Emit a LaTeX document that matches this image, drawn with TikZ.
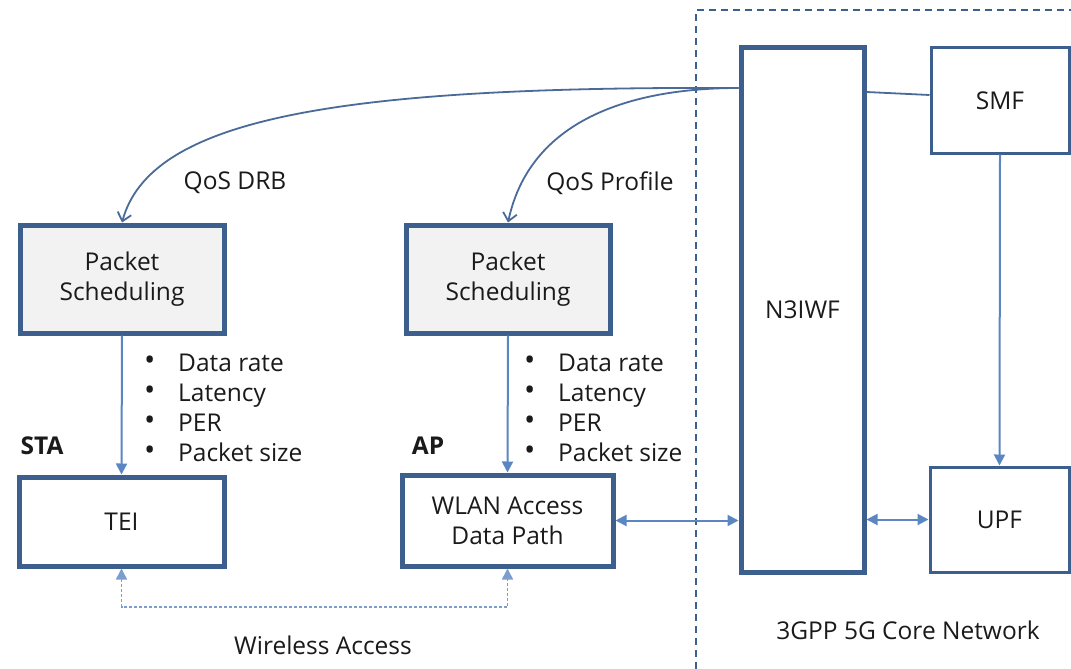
\documentclass[tikz,border=0pt]{standalone}
\usepackage{fontspec}
\setmainfont{Open Sans}
\usetikzlibrary{arrows.meta}
\definecolor{boxc}{HTML}{3D5F8E}
\definecolor{linec}{HTML}{5A86C2}
\definecolor{curvec}{HTML}{4A6A98}
\definecolor{txt}{HTML}{1A1A1A}
\definecolor{fillg}{HTML}{F2F2F2}
\tikzset{
  thickbox/.style={draw=boxc,line width=5pt,inner sep=0pt,align=center,font=\fontsize{24.5}{30}\selectfont,text=txt},
  thinbox/.style={draw=boxc,line width=3pt,inner sep=0pt,align=center,font=\fontsize{24.5}{30}\selectfont,text=txt},
  lbl/.style={font=\fontsize{24.5}{30}\selectfont,text=txt,inner sep=0pt},
  bl/.style={font=\fontsize{24.5}{30}\selectfont,text=txt,inner sep=0pt,align=left,anchor=north west},
  conn/.style={draw=linec,line width=2pt,-{Triangle[length=11pt,width=11pt]}},
  dconn/.style={draw=linec,line width=2pt,{Triangle[length=11pt,width=11pt]}-{Triangle[length=11pt,width=11pt]}},
  curve/.style={draw=curvec,line width=1.8pt,-{Straight Barb[length=8pt,width=14pt]}},
}
\newcommand{\bul}{\makebox[34pt][l]{\raisebox{1pt}{\fontsize{30}{30}\selectfont\textbullet}}}
\begin{document}
\begin{tikzpicture}[x=1pt,y=-1pt]
\useasboundingbox (0,0) rectangle (1071,669);
% dashed core network region
\draw[draw=boxc,line width=1.5pt,dash pattern=on 7pt off 5pt] (696,669) -- (696,10) -- (1071,10);
% nodes
\node[thickbox,minimum width=123pt,minimum height=524pt] (n3iwf) at (802.5,310) {N3IWF};
\node[thinbox,minimum width=138pt,minimum height=105pt] (smf) at (1000,100.5) {SMF};
\node[thinbox,minimum width=139pt,minimum height=105pt] (upf) at (999.5,519.5) {UPF};
\node[thickbox,fill=fillg,minimum width=204pt,minimum height=108pt] (ps1) at (122,279) {Packet\\Scheduling};
\node[thickbox,fill=fillg,minimum width=204pt,minimum height=108pt] (ps2) at (508,279) {Packet\\Scheduling};
\node[thickbox,minimum width=205pt,minimum height=89pt] (tei) at (121.5,521.5) {TEI};
\node[thickbox,minimum width=211pt,minimum height=91pt] (wlan) at (507.5,520.5) {WLAN Access\\Data Path};
% labels
\node[lbl,font=\fontsize{24.5}{30}\selectfont\bfseries] (sta) at (42,446) {STA};
\node[lbl,font=\fontsize{24.5}{30}\selectfont\bfseries] (ap) at (428,446) {AP};
\node[lbl] (drb) at (235,183) {QoS DRB};
\node[lbl] (prof) at (610,183) {QoS Profile};
\node[lbl] (wa) at (323,645) {Wireless Access};
\node[lbl] (core) at (908,630) {3GPP 5G Core Network};
\node[bl] (list1) at (144,354) {\bul Data rate\\\bul Latency\\\bul PER\\\bul Packet size};
\node[bl] (list2) at (524,354) {\bul Data rate\\\bul Latency\\\bul PER\\\bul Packet size};
% connectors
\draw[conn] (ps1.south) -- (tei.north);
\draw[conn] (ps2.south) -- (wlan.north);
\draw[conn] (smf.south) -- (upf.north);
\draw[dconn] (n3iwf.east |- upf.west) -- (upf.west);
\draw[dconn] (wlan.east) -- (n3iwf.west |- wlan.east);
\draw[draw=curvec,line width=1.8pt] (n3iwf.east |- 0,92) -- (smf.west |- 0,95);
\coordinate (src) at (n3iwf.west |- 0,88);
\draw[curve] (src) .. controls (330,86) and (150,120) .. (ps1.north);
\draw[curve] (src) .. controls (630,88) and (530,120) .. (ps2.north);
\coordinate (wl) at (tei.south |- 0,607);
\coordinate (wr) at (wlan.south |- 0,607);
\draw[draw=linec!80,line width=1.6pt,dash pattern=on 3pt off 2pt,{Triangle[length=11pt,width=11pt]}-{Triangle[length=11pt,width=11pt]}] (tei.south) -- (wl) -- (wr) -- (wlan.south);
\end{tikzpicture}
\end{document}
